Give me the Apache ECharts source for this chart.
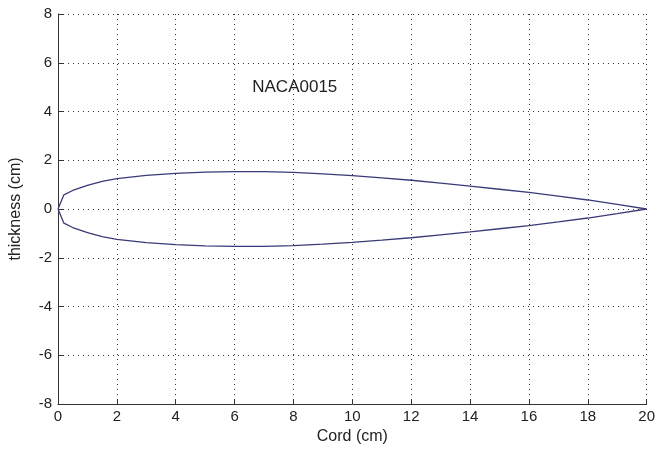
<!DOCTYPE html>
<html lang="en">
<head>
    <meta charset="UTF-8">
    <title>NACA0015</title>
    <script type="text/javascript" src="https://cdn.jsdelivr.net/npm/echarts@6/dist/echarts.min.js"></script>
    <style>
        html, body { margin: 0; padding: 0; background: #fff; }
    </style>
</head>
<body>
<div id="main" style="width: 658px;height:451px"></div>
<script type="text/javascript">
    // profile (cm)
    var cordX  = [0, 0.2, 0.5, 1, 1.5, 2, 3, 4, 5, 6, 7, 8, 9, 10, 11, 12, 13, 14, 15, 16, 17, 18, 19, 20];
    var upperY = [0, 0.58, 0.76, 0.97, 1.13, 1.25, 1.38, 1.46, 1.51, 1.53, 1.53, 1.50, 1.44, 1.37, 1.28, 1.18, 1.06, 0.94, 0.81, 0.68, 0.53, 0.37, 0.19, 0];
    var lowerY = [0, -0.58, -0.76, -0.97, -1.13, -1.25, -1.38, -1.46, -1.51, -1.53, -1.53, -1.50, -1.44, -1.37, -1.28, -1.18, -1.06, -0.94, -0.81, -0.68, -0.53, -0.37, -0.19, 0];
    var xTicks = [0, 2, 4, 6, 8, 10, 12, 14, 16, 18, 20];
    var yTicks = [-8, -6, -4, -2, 0, 2, 4, 6, 8];
    var noteText = 'NACA0015';
    var notePos = [6.6, 5];

    var chartDom = document.getElementById('main');
    var myChart = echarts.init(chartDom);

    // one closed outline: upper side out, lower side back
    var outline = [];
    for (var i = 0; i < cordX.length; i++) {
        outline.push([cordX[i], upperY[i]]);
    }
    for (var j = cordX.length - 1; j >= 0; j--) {
        outline.push([cordX[j], lowerY[j]]);
    }

    var font = '"Liberation Sans", Arial, sans-serif';
    var gridDots = { show: true, lineStyle: { color: '#333', type: [1, 4], width: 1 } };

    var option = {
        animation: false,
        textStyle: { fontFamily: font },
        grid: { left: 57, right: 7, top: 14, bottom: 47, containLabel: false },
        xAxis: {
            type: 'value',
            min: xTicks[0],
            max: xTicks[xTicks.length - 1],
            interval: xTicks[1] - xTicks[0],
            name: 'Cord (cm)',
            nameLocation: 'middle',
            nameGap: 24,
            nameTextStyle: { fontSize: 16, color: '#222', fontFamily: font },
            axisLine: { onZero: false, lineStyle: { color: '#333', width: 1 } },
            axisTick: { inside: true, length: 5, lineStyle: { color: '#333' } },
            axisLabel: { fontSize: 15, color: '#222', margin: 5, fontFamily: font },
            splitLine: gridDots
        },
        yAxis: {
            type: 'value',
            min: yTicks[0],
            max: yTicks[yTicks.length - 1],
            interval: yTicks[1] - yTicks[0],
            name: 'thickness (cm)',
            nameLocation: 'middle',
            nameGap: 34,
            nameTextStyle: { fontSize: 16, color: '#222', fontFamily: font },
            axisLine: { show: true, onZero: false, lineStyle: { color: '#333', width: 1 } },
            axisTick: { show: true, inside: true, length: 5, lineStyle: { color: '#333' } },
            axisLabel: { fontSize: 15, color: '#222', margin: 6, fontFamily: font },
            splitLine: gridDots
        },
        series: [
            {
                name: 'NACA0015',
                type: 'line',
                data: outline,
                showSymbol: false,
                symbol: 'none',
                smooth: false,
                lineStyle: { color: '#3a3a78', width: 1.3 },
                markPoint: {
                    symbol: 'circle',
                    symbolSize: 0,
                    data: [{ coord: notePos }],
                    label: {
                        show: true,
                        position: 'right',
                        distance: 0,
                        formatter: noteText,
                        fontSize: 17,
                        color: '#222',
                        fontFamily: font
                    }
                }
            }
        ]
    };

    option && myChart.setOption(option);
</script>
</body>
</html>
